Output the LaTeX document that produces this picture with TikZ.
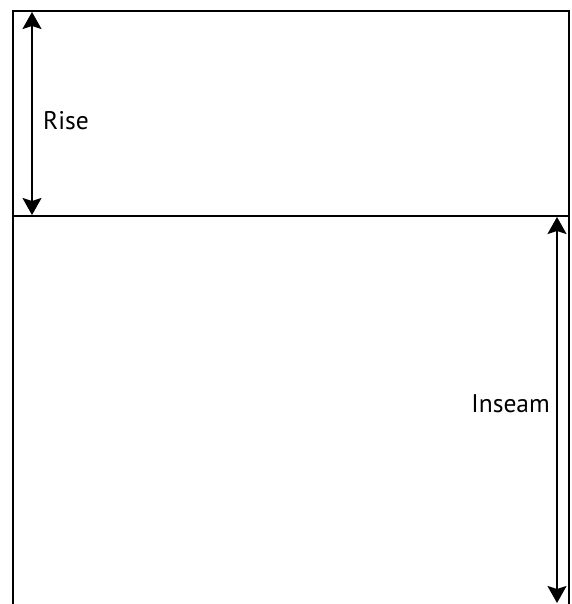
\documentclass[tikz,border=0pt]{standalone}
\usepackage{fontspec}
\setmainfont{PT Sans}
\usetikzlibrary{arrows.meta, positioning}
\tikzset{
  panel/.style  = {draw, line width=1.8pt},
  darrow/.style = {line width=1.8pt, {Stealth[length=17pt, width=19pt, inset=3pt]}-{Stealth[length=17pt, width=19pt, inset=3pt]}},
  dimlabel/.style = {font=\fontsize{25.5}{30}\selectfont, inner sep=0pt},
}

\begin{document}
\begin{tikzpicture}[x=1pt, y=-1pt]

    \useasboundingbox (0,0) rectangle (571,604);

    %% Outer panel and waistline
    \coordinate (tl) at (13, 11);
    \coordinate (br) at (569, 604.6);
    \draw[panel] (tl) rectangle (br);
    \coordinate (wl) at (13, 216);
    \coordinate (wr) at (569, 216);
    \draw[panel] (wl) -- (wr);

    %% Rise
    \coordinate (riseTop) at (32, 12);
    \coordinate (riseBot) at (32, 215);
    \draw[darrow] (riseBot) -- (riseTop);
    \node[dimlabel, anchor=west] (rise) at (43, 121) {Rise};

    %% Inseam
    \coordinate (inTop) at (557, 217);
    \coordinate (inBot) at (557, 603);
    \draw[darrow] (inTop) -- (inBot);
    \node[dimlabel, anchor=east] (inseam) at (550, 404) {Inseam};

\end{tikzpicture}
\end{document}
